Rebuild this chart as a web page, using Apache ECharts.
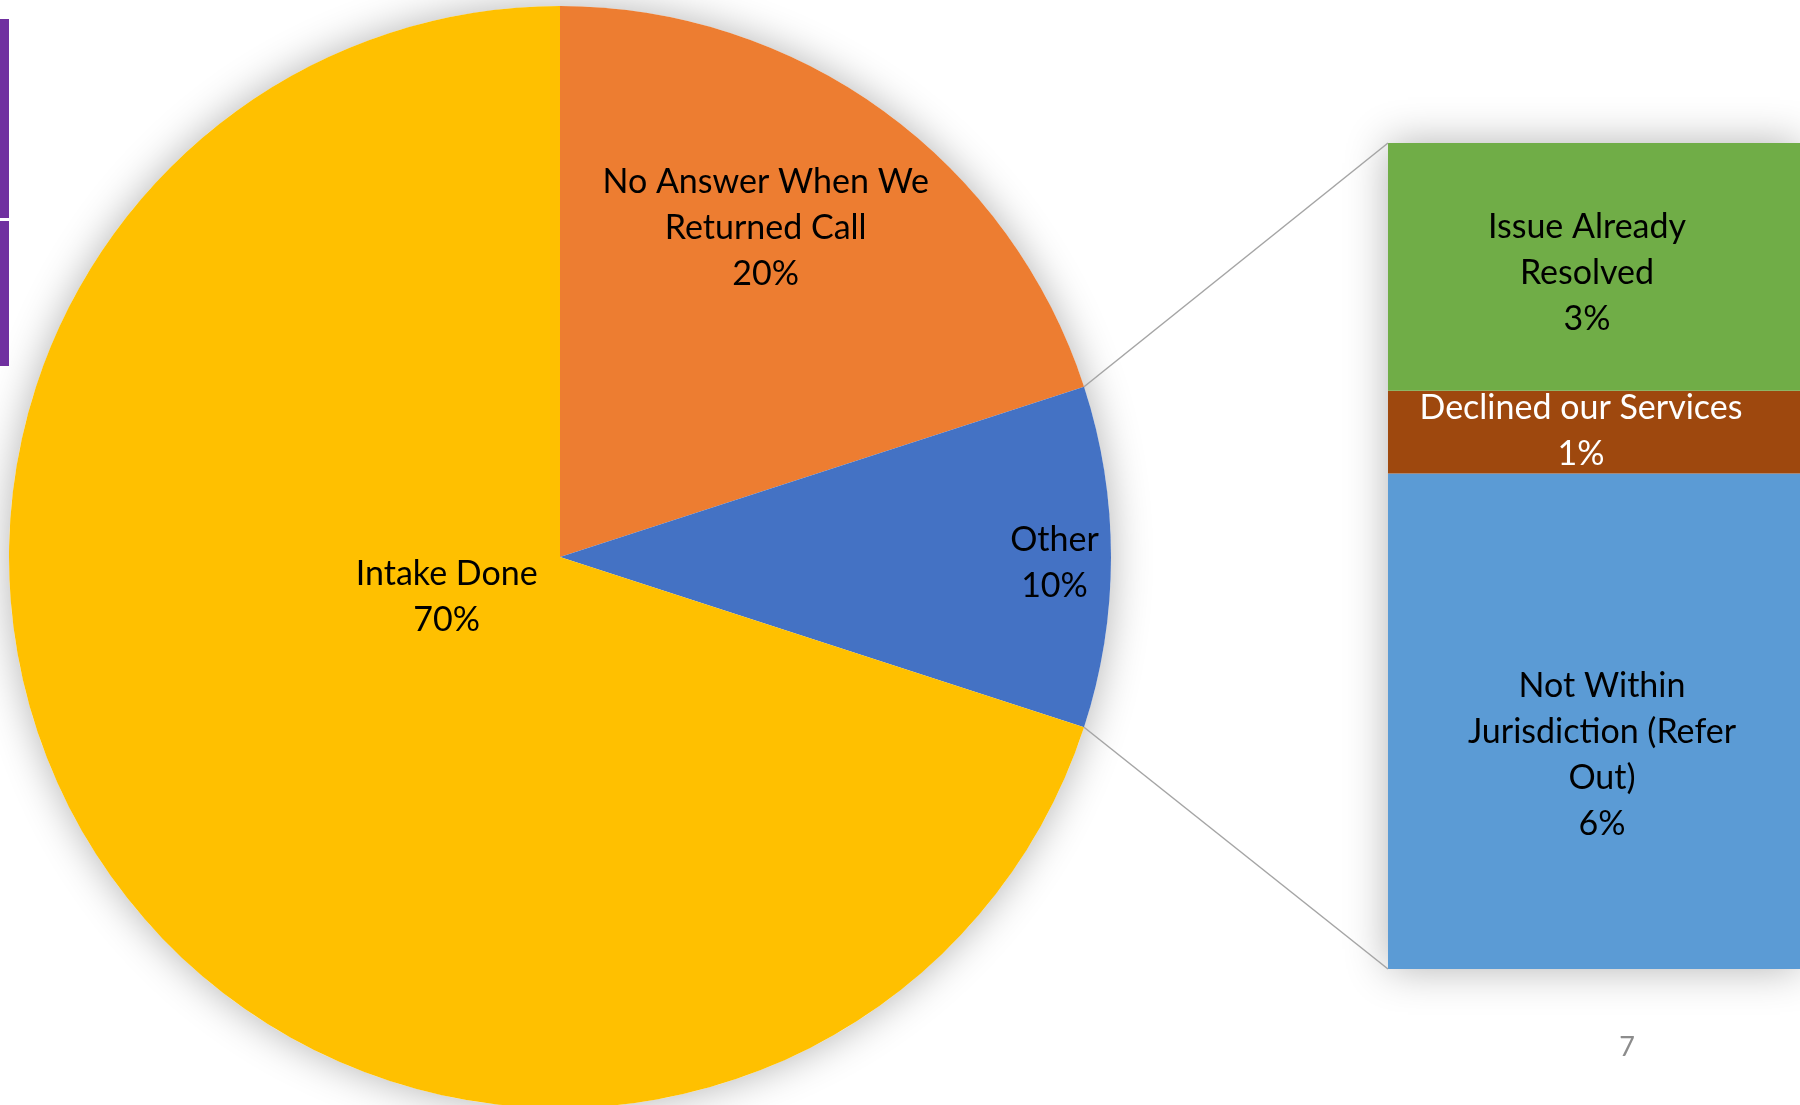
<!DOCTYPE html>
<html>
<head>
<meta charset="utf-8">
<script src="https://cdn.jsdelivr.net/npm/echarts@6/dist/echarts.min.js"></script>
<style>
  html, body { margin: 0; padding: 0; background: #ffffff; }
  #chart { width: 1800px; height: 1105px; }
</style>
</head>
<body>
<div id="chart"></div>
<script>
// Main pie: call outcomes (percent)
const pieNames = ['No Answer When We\nReturned Call', 'Other', 'Intake Done'];
const pieValues = [20, 10, 70];
const pieColors = ['#ED7D31', '#4472C4', '#FFC000'];

// Breakdown of "Other" (percent of all calls)
const barNames = ['Not Within\nJurisdiction (Refer\nOut)', 'Declined our Services', 'Issue Already\nResolved'];
const barValues = [6, 1, 3];
const barColors = ['#5B9BD5', '#9E480E', '#70AD47'];
const barLabelColors = ['#000000', '#ffffff', '#000000'];

const pageNumber = '7';

// Layout
const FONT = 'Lato, "Open Sans", sans-serif';
const PIE_CX = 560, PIE_CY = 557, PIE_R = 551;
const BAR_LEFT = 1388, BAR_TOP = 143, BAR_W = 414, BAR_H = 826;
const pieLabelShift = [[42, -104], [216, 6], [112, -124]];
const barLabelShift = [[8, 34], [-13, -1], [-7, 6]];

const labelText = { fontFamily: FONT, fontSize: 34, lineHeight: 46, color: '#000000' };

const barTotal = barValues.reduce((a, b) => a + b, 0);

// Connector lines from the "Other" slice edges to the column corners
const otherStart = 90 - 360 * pieValues[0] / 100;
const otherEnd = otherStart - 360 * pieValues[1] / 100;
const rad = a => a * Math.PI / 180;
const pTop = [PIE_CX + PIE_R * Math.cos(rad(otherStart)), PIE_CY - PIE_R * Math.sin(rad(otherStart))];
const pBot = [PIE_CX + PIE_R * Math.cos(rad(otherEnd)), PIE_CY - PIE_R * Math.sin(rad(otherEnd))];
const colTop = BAR_TOP;            // value = barTotal
const colBottom = BAR_TOP + BAR_H; // value = 0

const chart = echarts.init(document.getElementById('chart'), null, { renderer: 'canvas' });

const barSeries = barValues.map((v, i) => ({
  type: 'bar',
  name: barNames[i],
  stack: 'other',
  data: [v],
  barWidth: '100%',
  barGap: '-100%',
  silent: true,
  itemStyle: { color: barColors[i] },
  label: {
    show: true,
    position: 'inside',
    offset: barLabelShift[i],
    formatter: p => p.seriesName + '\n' + p.value + '%',
    ...labelText,
    color: barLabelColors[i]
  },
  z: 3
}));

chart.setOption({
  animation: false,
  backgroundColor: '#ffffff',
  grid: { left: BAR_LEFT, top: BAR_TOP, width: BAR_W, height: BAR_H },
  xAxis: { type: 'category', data: ['Other'], show: false },
  yAxis: { type: 'value', min: 0, max: barTotal, show: false },
  series: [
    // soft shadow behind the pie
    {
      type: 'pie',
      center: [PIE_CX, PIE_CY],
      radius: PIE_R,
      silent: true,
      label: { show: false },
      labelLine: { show: false },
      itemStyle: { color: '#ffffff', shadowBlur: 40, shadowColor: 'rgba(0,0,0,0.3)' },
      data: [{ value: 1 }],
      z: 1
    },
    {
      type: 'pie',
      center: [PIE_CX, PIE_CY],
      radius: PIE_R,
      startAngle: 90,
      clockwise: true,
      silent: true,
      data: pieNames.map((n, i) => ({ name: n, value: pieValues[i], itemStyle: { color: pieColors[i] } })),
      itemStyle: { borderWidth: 0 },
      label: {
        show: true,
        position: 'inside',
        formatter: p => p.name + '\n' + Math.round(p.percent) + '%',
        ...labelText
      },
      labelLine: { show: false },
      labelLayout: p => ({ dx: pieLabelShift[p.dataIndex][0], dy: pieLabelShift[p.dataIndex][1] }),
      z: 2
    },
    // soft shadow behind the stacked column
    {
      type: 'bar',
      data: [barTotal],
      barWidth: '100%',
      barGap: '-100%',
      silent: true,
      itemStyle: { color: '#ffffff', shadowBlur: 40, shadowColor: 'rgba(0,0,0,0.3)' },
      z: 1
    },
    ...barSeries
  ],
  graphic: [
    { type: 'line', shape: { x1: pTop[0], y1: pTop[1], x2: BAR_LEFT, y2: colTop }, style: { stroke: '#A5A5A5', lineWidth: 1.5 }, z: 10 },
    { type: 'line', shape: { x1: pBot[0], y1: pBot[1], x2: BAR_LEFT, y2: colBottom }, style: { stroke: '#A5A5A5', lineWidth: 1.5 }, z: 10 },
    // slide accent bars on the left edge
    { type: 'rect', shape: { x: 0, y: 19, width: 9, height: 199 }, style: { fill: '#7030A0' }, z: 10 },
    { type: 'rect', shape: { x: 0, y: 221, width: 9, height: 145 }, style: { fill: '#7030A0' }, z: 10 },
    // page number
    { type: 'text', x: 1627, y: 1047, style: { text: pageNumber, fontFamily: FONT, fontSize: 27, fill: '#8C8C8C', align: 'center', verticalAlign: 'middle' }, z: 10 }
  ]
});
</script>
</body>
</html>
